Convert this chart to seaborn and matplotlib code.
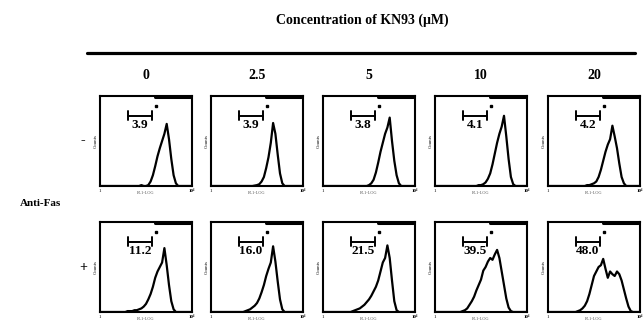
import matplotlib
matplotlib.use("Agg")
import matplotlib.pyplot as plt
from matplotlib.lines import Line2D
import numpy as np
import pandas as pd
import seaborn as sns

# ---------------- data ----------------
concentrations = ["0", "2.5", "5", "10", "20"]
row_signs = ["-", "+"]
pct_minus = [3.9, 3.9, 3.8, 4.1, 4.2]
pct_plus = [11.2, 16.0, 21.5, 39.5, 48.0]

# fluorescence channel in log decades (1 .. 10^4)
channel = [0.0, 0.1, 0.2, 0.3, 0.4, 0.5, 0.6, 0.7, 0.8, 0.9,
           1.0, 1.1, 1.2, 1.3, 1.4, 1.5, 1.6, 1.7, 1.8, 1.9,
           2.0, 2.1, 2.2, 2.3, 2.4, 2.5, 2.6, 2.7, 2.8, 2.9,
           3.0, 3.1, 3.2, 3.3, 3.4, 3.5, 3.6, 3.7, 3.8, 3.9,
           4.0]

neg_0 = [0, 0, 0, 0, 0, 0, 0, 0, 0, 0,
         0, 0, 0, 0, 0, 0, 0, 0, 0.01, 0,
         0, 0.01, 0.05, 0.12, 0.22, 0.33, 0.42, 0.50, 0.58, 0.69,
         0.52, 0.30, 0.12, 0.03, 0, 0, 0, 0, 0, 0,
         0]
neg_2_5 = [0, 0, 0, 0, 0, 0, 0, 0, 0, 0,
           0, 0, 0, 0, 0, 0, 0, 0, 0, 0.005,
           0.01, 0.02, 0.05, 0.10, 0.20, 0.32, 0.48, 0.70, 0.58, 0.35,
           0.14, 0.03, 0, 0, 0, 0, 0, 0, 0, 0,
           0]
neg_5 = [0, 0, 0, 0, 0, 0, 0, 0, 0, 0,
         0, 0, 0, 0, 0, 0, 0, 0, 0, 0,
         0.01, 0.03, 0.07, 0.15, 0.26, 0.38, 0.48, 0.58, 0.65, 0.76,
         0.50, 0.28, 0.12, 0.03, 0, 0, 0, 0, 0, 0,
         0]
neg_10 = [0, 0, 0, 0, 0, 0, 0, 0, 0, 0,
          0, 0, 0, 0, 0, 0, 0, 0, 0, 0.01,
          0.01, 0.02, 0.04, 0.08, 0.14, 0.24, 0.36, 0.48, 0.58, 0.66,
          0.78, 0.55, 0.30, 0.10, 0.02, 0, 0, 0, 0, 0,
          0]
neg_20 = [0, 0, 0, 0, 0, 0, 0, 0, 0, 0,
          0, 0, 0, 0, 0, 0, 0, 0.01, 0.01, 0.02,
          0.03, 0.05, 0.10, 0.18, 0.28, 0.38, 0.46, 0.52, 0.67, 0.55,
          0.42, 0.25, 0.10, 0.03, 0, 0, 0, 0, 0, 0,
          0]

pos_0 = [0, 0, 0, 0, 0, 0, 0, 0, 0, 0,
         0, 0, 0.01, 0.01, 0.01, 0.02, 0.02, 0.03, 0.04, 0.06,
         0.09, 0.14, 0.20, 0.28, 0.38, 0.45, 0.50, 0.55, 0.71, 0.52,
         0.30, 0.12, 0.03, 0, 0, 0, 0, 0, 0, 0,
         0]
pos_2_5 = [0, 0, 0, 0, 0, 0, 0, 0, 0, 0,
           0, 0, 0, 0, 0, 0.01, 0.02, 0.03, 0.05, 0.07,
           0.10, 0.15, 0.22, 0.30, 0.40, 0.48, 0.55, 0.73, 0.56, 0.34,
           0.14, 0.03, 0, 0, 0, 0, 0, 0, 0, 0,
           0]
pos_5 = [0, 0, 0, 0, 0, 0, 0, 0, 0, 0,
         0, 0, 0, 0.01, 0.02, 0.03, 0.04, 0.06, 0.08, 0.11,
         0.14, 0.18, 0.23, 0.28, 0.35, 0.45, 0.55, 0.60, 0.74, 0.60,
         0.35, 0.12, 0.02, 0, 0, 0, 0, 0, 0, 0,
         0]
pos_10 = [0, 0, 0, 0, 0, 0, 0, 0, 0, 0,
          0, 0, 0.01, 0.02, 0.04, 0.08, 0.12, 0.17, 0.24, 0.30,
          0.36, 0.46, 0.50, 0.56, 0.60, 0.58, 0.64, 0.69, 0.60, 0.45,
          0.30, 0.15, 0.05, 0.01, 0, 0, 0, 0, 0, 0,
          0]
pos_20 = [0, 0, 0, 0, 0, 0, 0, 0, 0, 0,
          0, 0, 0, 0.01, 0.02, 0.04, 0.07, 0.12, 0.20, 0.30,
          0.40, 0.45, 0.50, 0.52, 0.59, 0.48, 0.38, 0.45, 0.42, 0.40,
          0.45, 0.42, 0.35, 0.25, 0.15, 0.06, 0.01, 0, 0, 0,
          0]

counts_minus = [neg_0, neg_2_5, neg_5, neg_10, neg_20]
counts_plus = [pos_0, pos_2_5, pos_5, pos_10, pos_20]

# ---------------- figure ----------------
sns.set_style("white")
plt.rcParams['font.family'] = ['Liberation Serif', 'DejaVu Serif']
plt.rcParams['text.color'] = 'black'

W, H = 643, 324
fig = plt.figure(figsize=(W / 100, H / 100), dpi=100)

lefts = [100, 211, 323, 435, 548]
pw = 92
tops = [96, 222]
ph = 90

def fx(x):
    return x / W

def fy(y):
    return 1 - y / H

rows = [(counts_minus, pct_minus), (counts_plus, pct_plus)]
for r, (row_counts, row_pct) in enumerate(rows):
    for c in range(5):
        ax = fig.add_axes([fx(lefts[c]), fy(tops[r] + ph), pw / W, ph / H])
        df = pd.DataFrame({"log_fl": channel, "count": row_counts[c]})
        sns.lineplot(data=df, x="log_fl", y="count", ax=ax, color="black",
                     lw=1.6)
        ax.set_xlim(0, 4)
        ax.set_ylim(0, 1.0)
        ax.set_xticks([])
        ax.set_yticks([])
        ax.set_xlabel("")
        ax.set_ylabel("")
        for s in ax.spines.values():
            s.set_linewidth(1.5)
            s.set_color("black")
        # marker bracket M1
        bx0, bx1, by = 1.2, 2.28, 0.78
        ax.plot([bx0, bx1], [by, by], color="black", lw=1.4)
        ax.plot([bx0, bx0], [by - 0.05, by + 0.05], color="black", lw=1.4)
        ax.plot([bx1, bx1], [by - 0.05, by + 0.05], color="black", lw=1.4)
        ax.text((bx0 + bx1) / 2, by - 0.04, f"{row_pct[c]:.1f}", ha="center",
                va="top", fontsize=9.5, fontweight="bold", color="black")
        # top-right marker M2
        ax.plot([2.4, 3.92], [0.985, 0.985], color="black", lw=2.2)
        ax.plot([2.44], [0.89], marker="s", ms=1.6, color="black")
        # tiny axis annotations
        ax.text(0.0, -0.03, "1", transform=ax.transAxes, ha="center",
                va="top", fontsize=3.5, color="black")
        ax.text(1.0, -0.03, "10⁴", transform=ax.transAxes, ha="center",
                va="top", fontsize=3.5, fontweight="bold", color="black")
        ax.text(0.5, -0.05, "FL1-LOG", transform=ax.transAxes, ha="center",
                va="top", fontsize=3.2, color="#555555")
        ax.text(-0.045, 0.5, "Counts", transform=ax.transAxes, ha="center",
                va="center", rotation=90, fontsize=3.5, color="black")

# header
fig.text(fx(362), fy(20), "Concentration of KN93 (μM)", ha="center",
         va="center", fontsize=10, fontweight="bold", color="black")
fig.add_artist(Line2D([fx(87), fx(635)], [fy(53), fy(53)], color="black",
                      lw=2.3))
for c, lab in enumerate(concentrations):
    fig.text(fx(lefts[c] + pw / 2), fy(76), lab, ha="center", va="center",
             fontsize=10, fontweight="bold", color="black")

fig.text(fx(83), fy(141), row_signs[0], ha="center", va="center",
         fontsize=10, fontweight="bold", color="black")
fig.text(fx(83), fy(267), row_signs[1], ha="center", va="center",
         fontsize=10, fontweight="bold", color="black")
fig.text(fx(41), fy(203), "Anti-Fas", ha="center", va="center",
         fontsize=8, fontweight="bold", color="black")

fig.savefig("out.png", dpi=100)
